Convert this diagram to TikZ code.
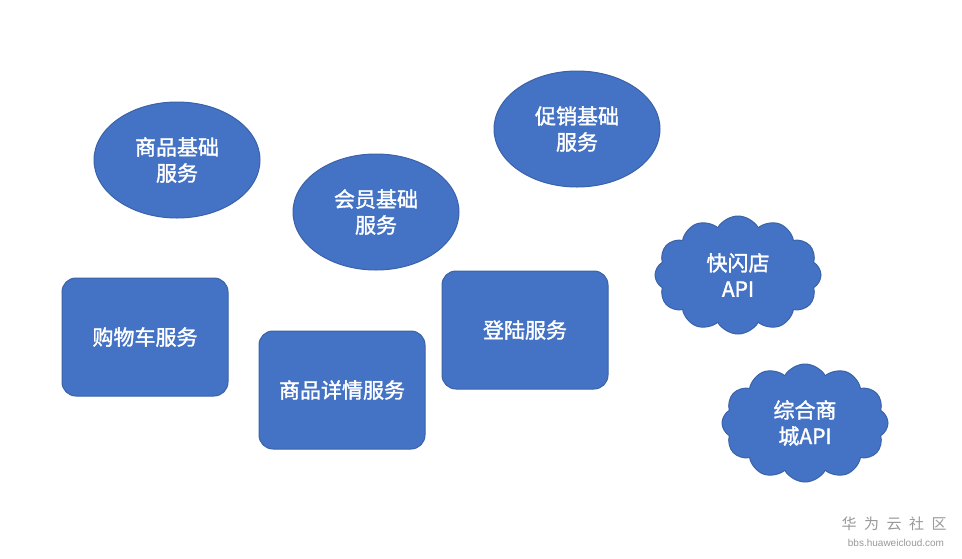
\documentclass[tikz,border=0pt]{standalone}
\usepackage{fontspec}
\newfontfamily\cjk[FakeBold=1.6]{Noto Sans CJK SC}
\newfontfamily\cjkw{Noto Sans CJK SC}
\usetikzlibrary{shapes.geometric,shapes.symbols}
\definecolor{fillb}{HTML}{4472C4}
\definecolor{edgeb}{HTML}{3A62A8}
\tikzset{
  base/.style={fill=fillb,draw=edgeb,line width=1pt,text=white,align=center,inner sep=0pt,
    font=\cjk\fontsize{21}{26}\selectfont},
  ell/.style={base,ellipse,minimum width=166pt,minimum height=116pt},
  rbox/.style={base,rectangle,rounded corners=14pt,minimum width=166pt,minimum height=118pt},
  cld/.style={base,cloud,cloud puffs=12,cloud puff arc=120,aspect=1.4,minimum width=166pt,minimum height=118pt},
  wm/.style={text=gray!80,inner sep=0pt}
}
\begin{document}
\begin{tikzpicture}[x=1pt,y=-1pt]
\useasboundingbox (0,0) rectangle (962,558);
\fill[white] (0,0) rectangle (962,558);
\node[ell] (spjc) at (177,160) {商品基础\\服务};
\node[ell] (hyjc) at (376,212) {会员基础\\服务};
\node[ell] (cxjc) at (577,129) {促销基础\\服务};
\node[rbox] (gwc) at (145,337) {购物车服务};
\node[rbox] (spxq) at (342,390) {商品详情服务};
\node[rbox] (dl) at (525,330) {登陆服务};
\node[cld] (sd) at (738,275) {快闪店\\API};
\node[cld] (zh) at (805,423) {综合商\\城API};
\node[wm,font=\cjkw\fontsize{15}{15}\selectfont] (wm1) at (894,524) {华\,\,\,为\,\,\,云\,\,\,社\,\,\,区};
\node[wm,font=\fontspec{Liberation Sans}\fontsize{10}{10}\selectfont] (wm2) at (896,543) {bbs.huaweicloud.com};
\end{tikzpicture}
\end{document}
